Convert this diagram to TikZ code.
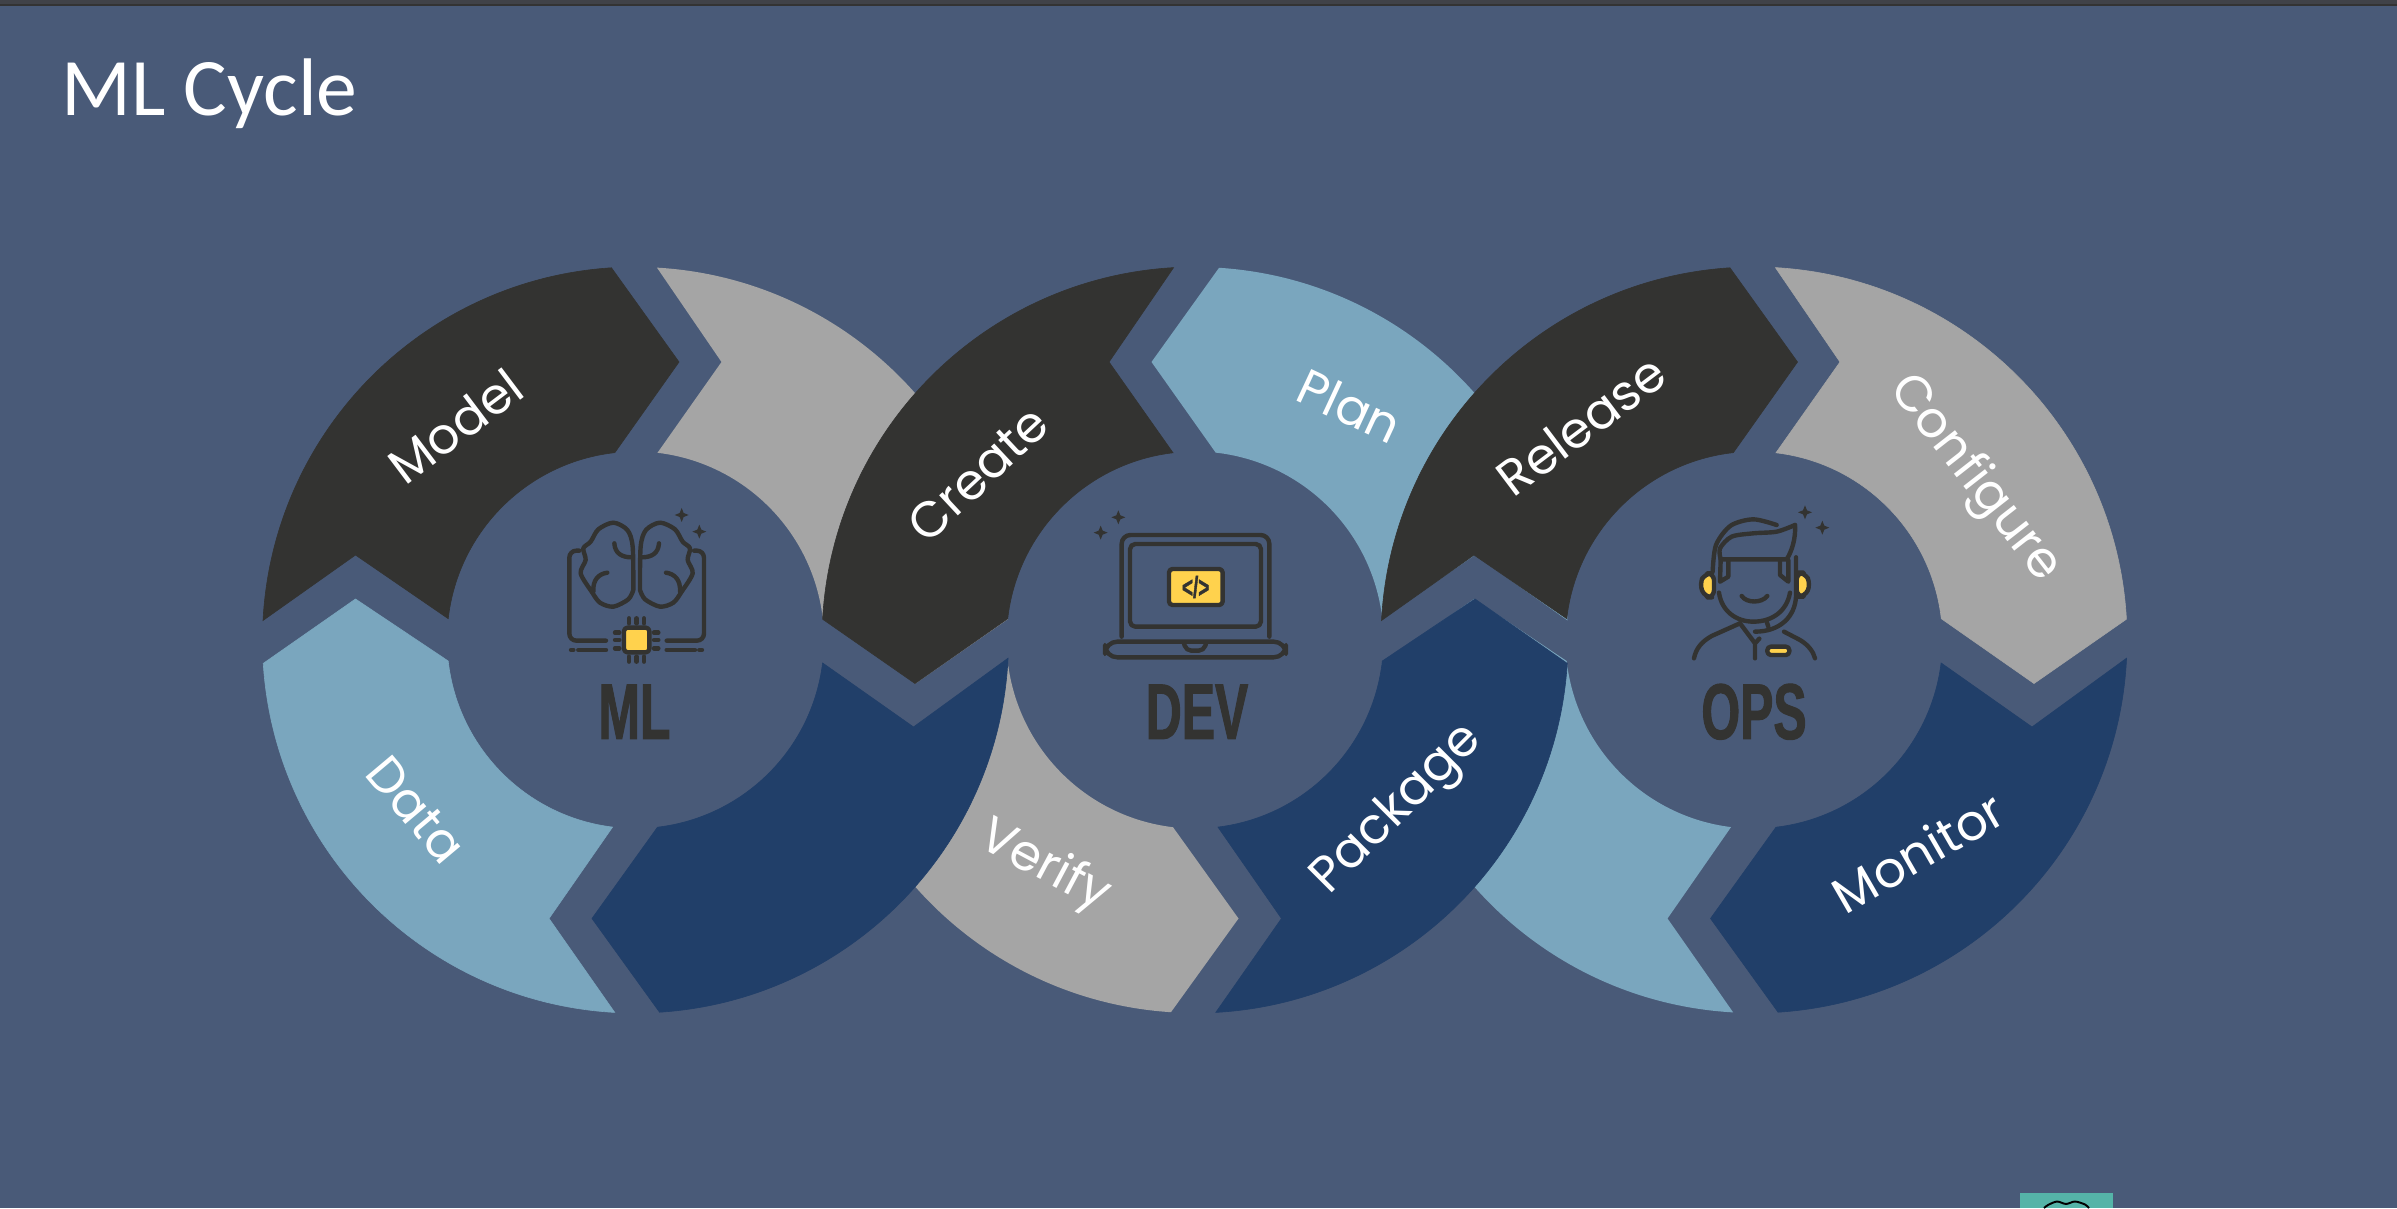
\documentclass[tikz,border=0pt]{standalone}
\usepackage{fontspec}
\usepackage{xcolor}
\usetikzlibrary{positioning, calc}
\setmainfont{Carlito}
\newfontfamily\poppins{Poppins}
\newfontfamily\hubfont[FakeStretch=0.63,FakeBold=1.2]{Liberation Sans}

\definecolor{slidebg}{HTML}{495A78}
\definecolor{topbar}{HTML}{404248}
\definecolor{inkdark}{HTML}{333331}
\definecolor{seggray}{HTML}{A5A5A5}
\definecolor{seglight}{HTML}{7AA6BE}
\definecolor{segblue}{HTML}{213F69}
\definecolor{iconyellow}{HTML}{FFD24D}
\definecolor{logoteal}{HTML}{55B4A8}

% four arrow pieces of one ring, relative to the ring centre
\newcommand{\pathmodel}{(177:373) arc[start angle=177, end angle=93.7, radius=373] -- (43.5,278) -- (96.3:188.5) arc[start angle=96.3, end angle=173.5, radius=188.5] -- (-280,85) -- cycle}
\newcommand{\pathhead}{(86.7:373) arc[start angle=86.7, end angle=3.2, radius=373] -- (280,-43.5) -- (6.5:188.5) arc[start angle=6.5, end angle=83.3, radius=188.5] -- (86,278) -- cycle}
\newcommand{\pathtail}{(-2.8:373) arc[start angle=-2.8, end angle=-86.3, radius=373] -- (-43.5,-278.5) -- (-83.3:188.5) arc[start angle=-83.3, end angle=-7, radius=188.5] -- (278,-87) -- cycle}
\newcommand{\pathverify}{(-7:373) arc[start angle=-7, end angle=-86.3, radius=373] -- (-43.5,-278.5) -- (-83.3:188.5) arc[start angle=-83.3, end angle=-8, radius=188.5] -- (278,-92) -- cycle}
\newcommand{\pathdata}{(-93.2:373) arc[start angle=-93.2, end angle=-176.4, radius=373] -- (-280,41) -- (-173.6:188.5) arc[start angle=-173.6, end angle=-97, radius=188.5] -- (-86.5,-278.5) -- cycle}
\newcommand{\spark}[2]{\fill[inkdark] (#1-21,#2) -- (#1-6,#2-6) -- (#1,#2-21) -- (#1+6,#2-6) -- (#1+21,#2) -- (#1+6,#2+6) -- (#1,#2+21) -- (#1-6,#2+6) -- cycle;}

\begin{document}
\begin{tikzpicture}[
    x=0.02cm, y=0.02cm,
    piece/.style={draw=#1, fill=#1, line width=0.35pt},
    seglabel/.style={text=white, font=\poppins\fontsize{28.5}{28.5}\selectfont, inner sep=0pt},
    hublabel/.style={text=inkdark, font=\hubfont\bfseries\fontsize{45}{45}\selectfont, inner sep=0pt, anchor=base},
    iconline/.style={draw=inkdark, line width=2.5pt, line cap=round, line join=round},
    iconfill/.style={iconline, fill=iconyellow, rounded corners=2pt},
    iconscope/.style={x=0.00667cm, y=-0.00667cm}
]
\useasboundingbox (0,0) rectangle (2397,1208);
\fill[slidebg] (0,0) rectangle (2397,1208);
\fill[topbar] (0,1203) rectangle (2397,1208);
\draw[black!80, line width=0.6pt] (0,1203) -- (2397,1203);

\node[text=white, font=\fontsize{46.5}{46.5}\selectfont, anchor=base west, inner sep=0pt] (title) at (61,1092) {ML Cycle};

\coordinate (ringml) at (635.5,568);
\coordinate (ringdev) at (1195,568);
\coordinate (ringops) at (1754,568);

% pieces that go under their neighbours
\begin{scope}[shift={(ringml)}]
  \fill[seggray] \pathhead;
\end{scope}
\begin{scope}[shift={(ringdev)}, xscale=-1]
  \fill[seglight] \pathmodel;
  \fill[seggray] \pathverify;
\end{scope}
\begin{scope}[shift={(ringops)}]
  \fill[seglight] \pathdata;
\end{scope}

% pieces on top
\begin{scope}[shift={(ringml)}]
  \path[piece=inkdark] \pathmodel;
  \path[piece=segblue] \pathtail;
  \path[piece=seglight] \pathdata;
\end{scope}
\begin{scope}[shift={(ringdev)}, xscale=-1]
  \path[piece=inkdark] \pathhead;
  \path[piece=segblue] \pathdata;
\end{scope}
\begin{scope}[shift={(ringops)}]
  \path[piece=inkdark] \pathmodel;
  \path[piece=seggray] \pathhead;
  \path[piece=segblue] \pathtail;
\end{scope}

\foreach \x/\y/\ang/\txt in {455/782/37/Model, 416/398/-50/Data, 978/734/43/Create, 1350/802/-25/Plan, 1581/783/37/Release, 1974/729/-52/Configure, 1044/341/-28/Verify, 1398/398/45/Package, 1918/356/30/Monitor}
  \node[seglabel, rotate=\ang] (\txt) at (\x,\y) {\txt};

\node[hublabel] (ml) at (634.5,469) {ML};
\node[hublabel] (dev) at (1197,469) {DEV};
\node[hublabel] (ops) at (1754,469) {OPS};

% brain and chip
\begin{scope}[shift={(520,728)}, iconscope]
  \draw[iconline] plot[smooth] coordinates {(340,330) (338,200) (322,150) (280,128) (235,148) (212,185) (190,205) (197,240) (182,280) (215,335) (240,368) (280,380) (325,358) (340,330)};
  \draw[iconline] plot[smooth] coordinates {(360,330) (362,200) (378,150) (420,128) (465,148) (488,185) (510,205) (503,240) (518,280) (485,335) (460,368) (420,380) (375,358) (360,330)};
  \draw[iconline] (283,190) .. controls (285,220) and (305,232) .. (335,232);
  \draw[iconline] (417,190) .. controls (415,220) and (395,232) .. (365,232);
  \draw[iconline] (262,278) .. controls (235,282) and (218,300) .. (220,335);
  \draw[iconline] (438,278) .. controls (465,282) and (482,300) .. (480,335);
  \draw[iconline, rounded corners=4pt] (178,212) -- (148,212) -- (148,482) -- (258,482);
  \draw[iconline, rounded corners=4pt] (522,212) -- (552,212) -- (552,482) -- (440,482);
  \draw[iconline] (175,510) -- (258,510) (153,510) -- (160,510);
  \draw[iconline] (440,510) -- (525,510) (538,510) -- (546,510);
  \draw[iconfill] (312,443) rectangle (388,517);
  \foreach \p in {327,350,372} {
    \draw[iconline] (\p,415) -- (\p,430);
    \draw[iconline] (\p,530) -- (\p,545);
  }
  \foreach \p in {458,480,505} {
    \draw[iconline] (285,\p) -- (298,\p);
    \draw[iconline] (402,\p) -- (415,\p);
  }
  \spark{485}{105}
  \spark{538}{155}
\end{scope}

% laptop
\begin{scope}[shift={(1060,728)}, iconscope]
  \draw[iconline, rounded corners=5pt] (185,470) -- (185,165) -- (628,165) -- (628,470);
  \draw[iconline, rounded corners=3pt] (210,192) rectangle (603,440);
  \draw[iconfill] (327,267) rectangle (488,375);
  \node[text=inkdark, font=\hubfont\bfseries\fontsize{17}{17}\selectfont, inner sep=0pt] (codetag) at (407,321) {</>};
  \draw[iconline, rounded corners=7pt] (135,485) rectangle (678,532);
  \draw[iconline, rounded corners=3pt] (372,490) -- (378,512) -- (432,512) -- (438,490);
  \spark{175}{112}
  \spark{122}{158}
\end{scope}

% operator with headset
\begin{scope}[shift={(1640,728)}, iconscope]
  \draw[iconfill, rounded corners=4pt] (222,280) -- (195,280) -- (178,312) -- (195,352) -- (222,352) -- cycle;
  \draw[iconfill, rounded corners=4pt] (470,278) -- (495,278) -- (512,312) -- (495,350) -- (470,350) -- cycle;
  \draw[iconline] plot[smooth] coordinates {(218,275) (228,195) (272,137) (340,118) (410,135)};
  \draw[iconline] plot[smooth] coordinates {(242,238) (240,205) (275,170) (340,160) (410,155) (465,135)};
  \draw[iconline] (465,135) .. controls (468,175) and (455,215) .. (440,238) -- (245,238);
  \draw[iconline] (242,238) -- (240,305) -- (265,290) -- (265,240);
  \draw[iconline] (420,240) -- (420,285) -- (445,305) -- (445,240);
  \draw[iconline] (468,232) -- (468,350) .. controls (465,410) and (420,455) .. (345,455);
  \draw[iconline] (237,338) .. controls (245,395) and (290,425) .. (340,425) .. controls (395,425) and (440,395) .. (450,338);
  \draw[iconline] (305,348) .. controls (320,370) and (365,370) .. (382,348);
  \draw[iconline] (300,430) -- (215,468) .. controls (185,485) and (168,505) .. (162,535);
  \draw[iconline] (432,455) -- (480,480) .. controls (505,495) and (520,515) .. (525,535);
  \draw[iconline] (300,430) -- (345,490) -- (345,535) (345,490) -- (358,476);
  \draw[iconline] (380,425) -- (385,440);
  \draw[iconfill] (382,500) rectangle (448,525);
  \spark{495}{97}
  \spark{547}{143}
\end{scope}

% corner of the logo at the bottom edge
\fill[logoteal] (2020,0) rectangle (2113,15);
\draw[black, line width=1.1pt] plot[smooth] coordinates {(2044,0) (2048,3) (2057,6.5) (2066,4) (2075,6.5) (2085,3.5) (2089,0)};
\end{tikzpicture}
\end{document}
